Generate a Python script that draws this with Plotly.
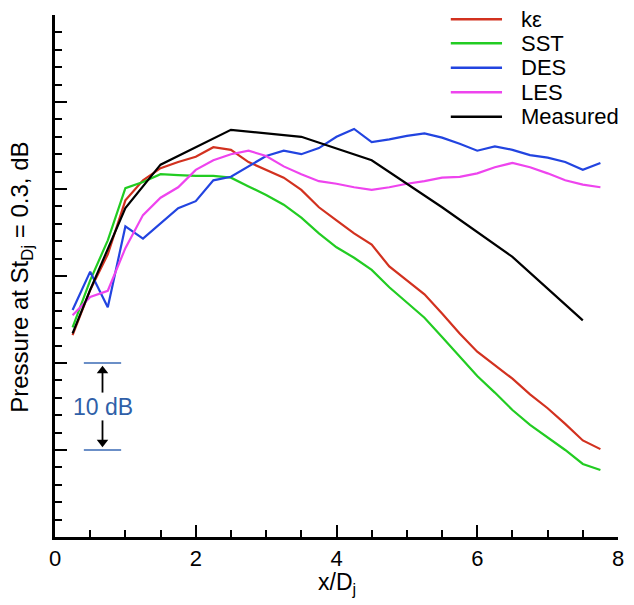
import plotly.graph_objects as go

# ---------------- data ----------------
x_cfd = [0.25, 0.5, 0.75, 1.0, 1.25, 1.5, 1.75, 2.0, 2.25, 2.5, 2.75, 3.0, 3.25, 3.5, 3.75, 4.0,
         4.25, 4.5, 4.75, 5.0, 5.25, 5.5, 5.75, 6.0, 6.25, 6.5, 6.75, 7.0, 7.25, 7.5, 7.75]

ke = [23.2, 28.4, 32.5, 38.7, 41.0, 42.4, 43.1, 43.7, 44.8, 44.5, 43.1, 42.2, 41.3, 39.9, 37.9, 36.4,
      34.9, 33.6, 31.1, 29.5, 27.9, 25.7, 23.4, 21.3, 19.8, 18.2, 16.4, 14.8, 13.0, 11.1, 10.1]

sst = [24.1, 29.5, 34.1, 40.1, 40.8, 41.7, 41.6, 41.5, 41.5, 41.3, 40.3, 39.3, 38.2, 36.7, 34.9, 33.3,
       32.1, 30.7, 28.7, 27.0, 25.2, 23.0, 20.8, 18.5, 16.6, 14.6, 12.9, 11.5, 10.0, 8.4, 7.7]

des = [26.1, 30.5, 26.4, 35.7, 34.3, 36.1, 37.8, 38.6, 41.0, 41.4, 42.6, 43.8, 44.4, 44.0, 44.7, 46.0,
       46.9, 45.4, 45.7, 46.1, 46.4, 45.9, 45.2, 44.4, 44.9, 44.5, 43.9, 43.6, 43.1, 42.2, 43.0]

les = [25.5, 27.6, 28.3, 33.2, 37.0, 39.0, 40.2, 42.2, 43.3, 44.0, 44.4, 43.8, 42.6, 41.7, 40.9, 40.6,
       40.2, 39.9, 40.2, 40.6, 40.9, 41.3, 41.4, 41.8, 42.5, 43.0, 42.5, 41.8, 41.0, 40.5, 40.2]

x_meas = [0.25, 0.5, 1.0, 1.5, 2.5, 3.5, 4.5, 5.5, 6.5, 7.5]
measured = [23.4, 28.4, 37.8, 42.8, 46.8, 46.0, 43.3, 37.9, 32.2, 24.9]

series_names = ["k\u03b5", "SST", "DES", "LES", "Measured"]
series_colors = ["#d2311f", "#22cc22", "#2244e0", "#ee44ee", "#000000"]

# scale-bar (10 dB reference)
scale_top = 20.0
scale_bottom = 10.0
scale_x = [0.41, 0.94]
arrow_up = [16.6, 19.1]      # shaft tail, arrowhead centre
arrow_down = [13.4, 10.9]

x_ticks = [0, 2, 4, 6, 8]

FONT = "Arial, Liberation Sans, sans-serif"

fig = go.Figure()
xs = [x_cfd, x_cfd, x_cfd, x_cfd, x_meas]
ys = [ke, sst, des, les, measured]
for name, col, xx, yy in zip(series_names, series_colors, xs, ys):
    fig.add_trace(go.Scatter(x=xx, y=yy, mode="lines", name=name,
                             line=dict(color=col, width=2.2), showlegend=False))

xm = (scale_x[0] + scale_x[1]) / 2
# scale-bar arrows (shaft + triangular head)
for seg, sym in ((arrow_up, "triangle-up"), (arrow_down, "triangle-down")):
    fig.add_trace(go.Scatter(x=[xm, xm], y=seg, mode="lines", line=dict(color="black", width=1.8),
                             showlegend=False, hoverinfo="skip"))
    fig.add_trace(go.Scatter(x=[xm], y=[seg[1]], mode="markers",
                             marker=dict(symbol=sym, size=10, color="black"),
                             showlegend=False, hoverinfo="skip"))

# manual legend (line samples + labels)
leg_y = [0.992, 0.946, 0.899, 0.852, 0.805]
shapes = []
annotations = []
for name, col, ly in zip(series_names, series_colors, leg_y):
    shapes.append(dict(type="line", xref="paper", yref="paper", x0=0.703, x1=0.794, y0=ly, y1=ly,
                       line=dict(color=col, width=2.5)))
    annotations.append(dict(xref="paper", yref="paper", x=0.826, y=ly, text=name, showarrow=False,
                            xanchor="left", yanchor="middle", borderpad=0,
                            font=dict(family=FONT, size=22, color="black")))

# scale bar lines
for yv in (scale_top, scale_bottom):
    shapes.append(dict(type="line", xref="x", yref="y", x0=scale_x[0], x1=scale_x[1], y0=yv, y1=yv,
                       line=dict(color="#3a6ab5", width=1.6)))
annotations.append(dict(xref="x", yref="y", x=xm, y=(scale_top + scale_bottom) / 2, text="10 dB",
                        showarrow=False, font=dict(family=FONT, size=23, color="#2f5fa8")))

# y-axis title
annotations.append(dict(xref="paper", yref="paper", x=-0.06, y=0.497, textangle=-90,
                        text="Pressure at St<sub>Dj</sub> = 0.3, dB", showarrow=False,
                        xanchor="center", yanchor="middle",
                        font=dict(family=FONT, size=24, color="black")))
# x-axis title
annotations.append(dict(xref="paper", yref="paper", x=0.5, y=-0.089,
                        text="x/D<sub>j</sub>", showarrow=False,
                        xanchor="center", yanchor="middle", borderpad=0,
                        font=dict(family=FONT, size=23, color="black")))

fig.update_layout(
    width=634, height=605,
    margin=dict(l=55, r=10, t=15, b=68),
    paper_bgcolor="white", plot_bgcolor="white",
    showlegend=False,
    shapes=shapes, annotations=annotations,
    font=dict(family=FONT, size=24, color="black"),
)
fig.update_xaxes(range=[0, 8], tickvals=x_ticks, ticktext=[str(v) for v in x_ticks],
                 ticks="inside", ticklen=12, tickwidth=2, tickcolor="black",
                 showline=True, linecolor="black", linewidth=2.5, mirror=False,
                 showgrid=False, zeroline=False,
                 minor=dict(dtick=0.5, ticks="inside", ticklen=7, tickwidth=1.5, tickcolor="black", showgrid=False),
                 tickfont=dict(family=FONT, size=22))
fig.update_yaxes(range=[0, 60], dtick=10, tick0=0, showticklabels=False,
                 ticks="inside", ticklen=12, tickwidth=2, tickcolor="black",
                 showline=True, linecolor="black", linewidth=2.5, mirror=False,
                 showgrid=False, zeroline=False,
                 minor=dict(dtick=2, ticks="inside", ticklen=7, tickwidth=1.5, tickcolor="black", showgrid=False))

fig.write_html("out.html")
